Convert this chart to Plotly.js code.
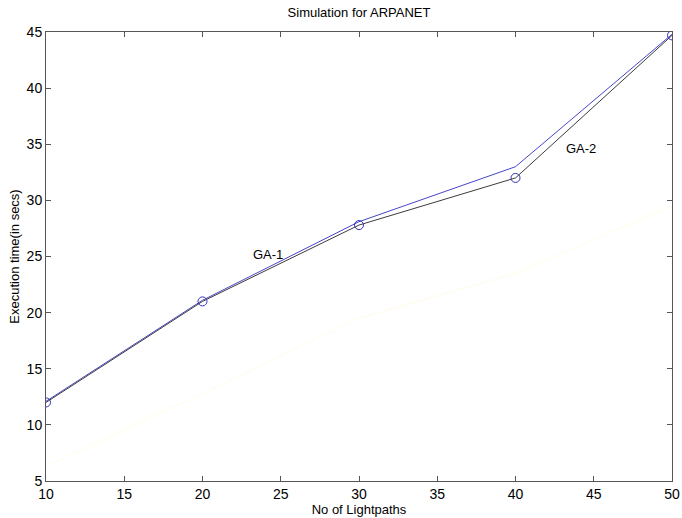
<!DOCTYPE html>
<html>
<head>
<meta charset="utf-8">
<script src="https://cdn.plot.ly/plotly-3.0.1.min.js"></script>
<style>html,body{margin:0;padding:0;background:#fff;}#chart{width:682px;height:518px;}</style>
</head>
<body>
<div id="chart"></div>
<script>
const lightpaths = [10, 20, 30, 40, 50];
const ga1 = [12.1, 21.1, 28.1, 33.0, 44.8];
const ga2 = [12.0, 21.0, 27.8, 32.0, 44.7];
const faint = [6.3, 12.8, 19.5, 23.5, 29.5];
const labelText = ['GA-1', 'GA-2'];
const labelX = [24.2, 44.2];
const labelY = [25.2, 34.6];

const font = 'Liberation Sans, Arial, sans-serif';

const traces = [
  {x: lightpaths, y: faint, mode: 'lines', line: {color: 'rgb(255,252,232)', width: 1}, hoverinfo: 'skip'},
  {x: lightpaths, y: ga1, mode: 'lines', line: {color: 'rgb(70,70,200)', width: 1}},
  {x: lightpaths, y: ga2, mode: 'lines+markers', line: {color: 'rgb(60,60,60)', width: 1},
   marker: {symbol: 'circle-open', size: 9, color: 'rgb(50,50,190)', line: {width: 1, color: 'rgb(50,50,190)'}}}
];

const layout = {
  width: 682, height: 518,
  margin: {l: 46, r: 10, t: 32, b: 37},
  paper_bgcolor: '#fff', plot_bgcolor: '#fff',
  showlegend: false,
  font: {family: font, size: 13, color: '#000'},
  title: {text: 'Simulation for ARPANET', font: {family: font, size: 13}, xref: 'paper', x: 0.5, xanchor: 'center', y: 0.985, yanchor: 'top'},
  xaxis: {
    range: [10, 50], dtick: 5, tick0: 10,
    showgrid: false, zeroline: false,
    showline: true, linecolor: '#555', linewidth: 1, mirror: 'ticks',
    ticks: 'inside', ticklen: 5, tickcolor: '#555',
    tickfont: {family: font, size: 14},
    title: {text: 'No of Lightpaths', font: {family: font, size: 13}, standoff: 2}
  },
  yaxis: {
    range: [5, 45], dtick: 5, tick0: 5,
    showgrid: false, zeroline: false,
    showline: true, linecolor: '#555', linewidth: 1, mirror: 'ticks',
    ticks: 'inside', ticklen: 5, tickcolor: '#555',
    tickfont: {family: font, size: 14},
    title: {text: 'Execution time(in secs)', font: {family: font, size: 13}, standoff: 4}
  },
  annotations: labelText.map((t, i) => ({
    x: labelX[i], y: labelY[i], xref: 'x', yref: 'y', text: t, showarrow: false,
    font: {family: font, size: 13, color: '#000'}
  }))
};

Plotly.newPlot('chart', traces, layout, {displayModeBar: false, staticPlot: true});
</script>
</body>
</html>
